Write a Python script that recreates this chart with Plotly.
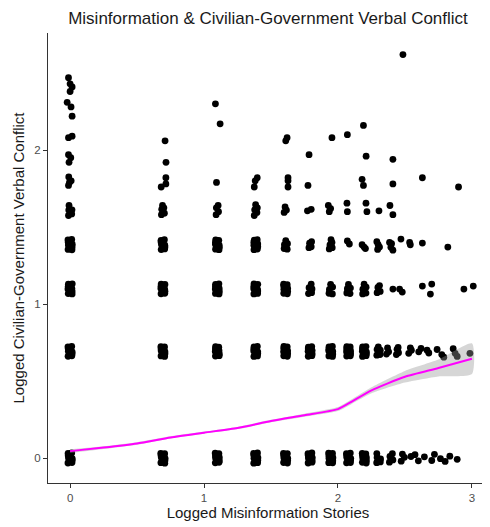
import plotly.graph_objects as go

# ---------------- data ----------------
# jittered observations: x = logged misinformation stories, y = logged verbal conflict
# row near y = 0
x_row0 = [-0.016, 0.014, -0.012, 0.016, -0.015, 0.012,
          0.678, 0.707, 0.681, 0.709, 0.677, 0.706,
          1.084, 1.112, 1.086, 1.114, 1.083, 1.111,
          1.371, 1.400, 1.373, 1.402, 1.370, 1.399,
          1.594, 1.623, 1.596, 1.625, 1.593, 1.622,
          1.777, 1.806, 1.779, 1.808, 1.776, 1.805,
          1.931, 1.960, 1.933, 1.962, 1.930, 1.959,
          2.064, 2.093, 2.066, 2.095, 2.063, 2.092,
          2.182, 2.211, 2.185, 2.212, 2.181, 2.208,
          2.289, 2.316, 2.292, 2.318, 2.290,
          2.384, 2.410, 2.388, 2.406,
          2.472, 2.496, 2.481,
          2.545, 2.575, 2.600, 2.645, 2.700, 2.720, 2.765, 2.800, 2.835, 2.890]
y_row0 = [-0.032, -0.029, 0.001, -0.004, 0.030, 0.033,
          -0.030, -0.033, 0.003, -0.002, 0.031, 0.028,
          -0.031, -0.028, 0.000, 0.004, 0.032, 0.029,
          -0.033, -0.030, -0.002, 0.002, 0.030, 0.033,
          -0.029, -0.032, 0.002, -0.003, 0.031, 0.029,
          -0.032, -0.027, 0.001, 0.003, 0.028, 0.033,
          -0.030, -0.031, -0.001, 0.002, 0.032, 0.030,
          -0.031, -0.029, 0.003, -0.002, 0.029, 0.032,
          -0.028, -0.032, 0.000, 0.004, 0.031, 0.027,
          -0.030, -0.025, 0.004, -0.006, 0.029,
          -0.027, -0.012, 0.010, 0.028,
          -0.020, 0.005, 0.026,
          0.010, 0.022, -0.018, 0.008, -0.016, 0.024, -0.004, -0.022, 0.012, -0.008]
x_row0_fill = [0.001, -0.002, 0.694, 0.691, 1.100, 1.097, 1.387, 1.384, 1.610, 1.607,
               1.793, 1.790, 1.947, 1.944, 2.080, 2.077, 2.198, 2.195,
               -0.014, 0.015, 0.679, 0.708, 1.085, 1.114, 1.372, 1.401, 1.595, 1.624,
               1.778, 1.807, 1.932, 1.961, 2.065, 2.094, 2.183, 2.212]
y_row0_fill = [-0.016, 0.017, -0.015, 0.016, -0.017, 0.015, -0.016, 0.018, -0.014, 0.016,
               -0.016, 0.017, -0.015, 0.016, -0.017, 0.015, -0.016, 0.017,
               0.016, -0.015, 0.017, -0.016, 0.015, -0.017, 0.016, -0.014, 0.018, -0.015,
               0.016, -0.016, 0.015, -0.017, 0.017, -0.015, 0.016, -0.016]

# row near y = 0.69
x_row1 = [-0.015, 0.013, -0.013, 0.015, -0.016, 0.012,
          0.679, 0.706, 0.680, 0.708, 0.678, 0.705,
          1.085, 1.113, 1.084, 1.112, 1.086, 1.110,
          1.372, 1.399, 1.371, 1.401, 1.373, 1.398,
          1.595, 1.622, 1.594, 1.624, 1.596, 1.621,
          1.778, 1.805, 1.777, 1.807, 1.779, 1.804,
          1.932, 1.959, 1.931, 1.961, 1.933, 1.958,
          2.065, 2.092, 2.064, 2.094, 2.066, 2.091,
          2.183, 2.210, 2.182, 2.212, 2.184, 2.209,
          2.290, 2.314, 2.292, 2.316, 2.301,
          2.362, 2.378, 2.370,
          2.436, 2.452, 2.441, 2.449,
          2.528, 2.548, 2.540,
          2.603, 2.620,
          2.665, 2.678,
          2.740, 2.775, 2.790,
          2.860, 2.875, 2.890,
          2.985]
y_row1 = [0.661, 0.664, 0.694, 0.690, 0.722, 0.725,
          0.663, 0.660, 0.696, 0.691, 0.724, 0.721,
          0.662, 0.665, 0.692, 0.697, 0.723, 0.720,
          0.660, 0.663, 0.695, 0.690, 0.721, 0.725,
          0.664, 0.661, 0.690, 0.696, 0.725, 0.722,
          0.661, 0.665, 0.693, 0.698, 0.720, 0.724,
          0.663, 0.660, 0.697, 0.692, 0.722, 0.725,
          0.662, 0.664, 0.691, 0.695, 0.724, 0.721,
          0.660, 0.665, 0.694, 0.690, 0.721, 0.724,
          0.668, 0.672, 0.705, 0.700, 0.722,
          0.675, 0.690, 0.715,
          0.672, 0.684, 0.706, 0.718,
          0.680, 0.700, 0.716,
          0.690, 0.712,
          0.700, 0.682,
          0.705, 0.672, 0.655,
          0.710, 0.680, 0.660,
          0.680]
x_row1_fill = [0.001, -0.002, 0.694, 0.691, 1.100, 1.097, 1.387, 1.384, 1.610, 1.607,
               1.793, 1.790, 1.947, 1.944, 2.080, 2.077, 2.198, 2.195,
               -0.014, 0.015, 0.679, 0.708, 1.085, 1.114, 1.372, 1.401, 1.595, 1.624,
               1.778, 1.807, 1.932, 1.961, 2.065, 2.094, 2.183, 2.212]
y_row1_fill = [0.677, 0.710, 0.678, 0.709, 0.676, 0.708, 0.677, 0.711, 0.679, 0.709,
               0.677, 0.710, 0.678, 0.709, 0.676, 0.708, 0.677, 0.710,
               0.709, 0.678, 0.710, 0.677, 0.708, 0.676, 0.709, 0.679, 0.711, 0.678,
               0.709, 0.677, 0.708, 0.676, 0.710, 0.678, 0.709, 0.677]

# row near y = 1.10
x_row2 = [-0.014, 0.015, -0.016, 0.013, -0.013, 0.016,
          0.679, 0.707, 0.678, 0.706, 0.680, 0.708,
          1.085, 1.112, 1.084, 1.113, 1.086, 1.111,
          1.372, 1.400, 1.371, 1.399, 1.373, 1.401,
          1.595, 1.622, 1.596, 1.624, 1.594, 1.621,
          1.780, 1.803, 1.806, 1.784, 1.800,
          1.933, 1.958, 1.936, 1.960, 1.945,
          2.066, 2.090, 2.070, 2.093, 2.078,
          2.184, 2.209, 2.186, 2.210, 2.195,
          2.292, 2.315, 2.298, 2.310,
          2.410, 2.460, 2.480, 2.630, 2.700, 2.690, 2.940, 3.010]
y_row2 = [1.068, 1.066, 1.098, 1.102, 1.129, 1.131,
          1.067, 1.070, 1.101, 1.096, 1.130, 1.127,
          1.069, 1.066, 1.097, 1.101, 1.128, 1.131,
          1.066, 1.069, 1.100, 1.095, 1.131, 1.128,
          1.070, 1.067, 1.096, 1.102, 1.129, 1.126,
          1.068, 1.074, 1.098, 1.106, 1.130,
          1.070, 1.066, 1.095, 1.110, 1.128,
          1.072, 1.068, 1.100, 1.104, 1.127,
          1.066, 1.071, 1.096, 1.109, 1.129,
          1.074, 1.082, 1.108, 1.120,
          1.097, 1.097, 1.078, 1.117, 1.130, 1.065, 1.097, 1.117]
x_row2_fill = [0.001, -0.002, 0.694, 0.691, 1.100, 1.097, 1.387, 1.384, 1.610, 1.607,
               -0.014, 0.015, 0.679, 0.708, 1.085, 1.114, 1.372, 1.401, 1.595, 1.624]
y_row2_fill = [1.083, 1.116, 1.084, 1.115, 1.082, 1.114, 1.083, 1.117, 1.085, 1.115,
               1.115, 1.084, 1.116, 1.083, 1.114, 1.082, 1.115, 1.085, 1.117, 1.083]

# row near y = 1.39
x_row3 = [-0.015, 0.014, -0.013, 0.016, -0.016, 0.012,
          0.680, 0.706, 0.682, 0.707, 0.679, 0.704,
          1.086, 1.112, 1.085, 1.113, 1.087, 1.110,
          1.373, 1.398, 1.372, 1.401, 1.375, 1.397,
          1.598, 1.621, 1.600, 1.623, 1.610,
          1.783, 1.800, 1.788, 1.803,
          1.935, 1.957, 1.940, 1.955, 1.948,
          2.070, 2.085,
          2.180, 2.195, 2.205,
          2.290, 2.300, 2.310, 2.296,
          2.385, 2.400, 2.395, 2.410,
          2.470, 2.535, 2.540, 2.630, 2.820]
y_row3 = [1.355, 1.352, 1.384, 1.389, 1.416, 1.419,
          1.354, 1.358, 1.386, 1.382, 1.414, 1.418,
          1.356, 1.353, 1.388, 1.383, 1.417, 1.414,
          1.353, 1.357, 1.382, 1.390, 1.415, 1.418,
          1.360, 1.356, 1.385, 1.392, 1.412,
          1.366, 1.372, 1.395, 1.405,
          1.358, 1.366, 1.384, 1.400, 1.418,
          1.410, 1.390,
          1.385, 1.370, 1.360,
          1.405, 1.385, 1.370, 1.355,
          1.400, 1.392, 1.368, 1.350,
          1.422, 1.400, 1.385, 1.396, 1.370]
x_row3_fill = [0.001, -0.002, 0.694, 0.691, 1.100, 1.097, 1.387, 1.384,
               -0.014, 0.015, 0.679, 0.708, 1.085, 1.114, 1.372, 1.401]
y_row3_fill = [1.370, 1.403, 1.371, 1.402, 1.369, 1.401, 1.370, 1.404,
               1.402, 1.371, 1.403, 1.370, 1.401, 1.369, 1.402, 1.372]

# row near y = 1.61
x_row4 = [-0.012, 0.012, -0.010, 0.014, -0.008,
          0.682, 0.704, 0.684, 0.700, 0.690,
          1.090, 1.108, 1.092, 1.105,
          1.375, 1.395, 1.378, 1.398, 1.385,
          1.598, 1.615, 1.605,
          1.772, 1.800,
          1.928, 1.945, 1.935,
          2.067, 2.070,
          2.209, 2.216,
          2.306,
          2.388, 2.410]
y_row4 = [1.575, 1.585, 1.610, 1.612, 1.640,
          1.580, 1.590, 1.615, 1.625, 1.640,
          1.580, 1.600, 1.625, 1.640,
          1.575, 1.595, 1.612, 1.625, 1.645,
          1.595, 1.610, 1.630,
          1.605, 1.615,
          1.640, 1.620, 1.600,
          1.655, 1.600,
          1.655, 1.600,
          1.605,
          1.640, 1.580]

# row near y = 1.79
x_row5 = [-0.010, 0.008, -0.012, -0.005,
          0.715, 0.715, 0.680,
          1.093,
          1.397, 1.382, 1.375,
          1.627, 1.627, 1.627,
          1.776,
          2.180, 2.190,
          2.410, 2.630, 2.900]
y_row5 = [1.825, 1.800, 1.770, 1.790,
          1.820, 1.780, 1.760,
          1.790,
          1.820, 1.800, 1.760,
          1.820, 1.800, 1.760,
          1.770,
          1.810, 1.770,
          1.780, 1.820, 1.760]

# upper scattered observations (y around 1.95 and above)
x_upper = [-0.012, 0.005, -0.008, 0.716, 1.784, 2.210, 2.410,
           -0.012, 0.015, 0.709, 1.620, 1.610, 1.955, 2.070,
           -0.012, 0.000, 0.015, 0.000, -0.022, 0.007, 0.015,
           1.085, 1.120, 2.190, 2.485]
y_upper = [1.970, 1.950, 1.920, 1.920, 1.970, 1.960, 1.940,
           2.080, 2.090, 2.060, 2.080, 2.060, 2.080, 2.100,
           2.470, 2.430, 2.410, 2.380, 2.310, 2.280, 2.220,
           2.300, 2.170, 2.160, 2.620]

# loess smooth with standard-error band
smooth_x = [0.0, 0.25, 0.5, 0.75, 1.0, 1.25, 1.5, 1.75, 2.0, 2.1, 2.25, 2.5, 2.75, 3.0]
smooth_y = [0.045, 0.068, 0.095, 0.134, 0.165, 0.195, 0.240, 0.278, 0.318, 0.365, 0.440, 0.528, 0.585, 0.645]
smooth_se = [0.012, 0.009, 0.008, 0.007, 0.007, 0.007, 0.008, 0.010, 0.013, 0.015, 0.020, 0.038, 0.055, 0.100]

x_ticks = [0, 1, 2, 3]
y_ticks = [0, 1, 2]

title_text = "Misinformation &amp; Civilian-Government Verbal Conflict"
x_title = "Logged Misinformation Stories"
y_title = "Logged Civilian-Government Verbal Conflict"

# ---------------- figure ----------------
stories = (x_row0 + x_row0_fill + x_row1 + x_row1_fill + x_row2 + x_row2_fill
           + x_row3 + x_row3_fill + x_row4 + x_row5 + x_upper)
conflict = (y_row0 + y_row0_fill + y_row1 + y_row1_fill + y_row2 + y_row2_fill
            + y_row3 + y_row3_fill + y_row4 + y_row5 + y_upper)

FONT = "Liberation Sans, Arial, sans-serif"

fig = go.Figure()

fig.add_trace(go.Scatter(
    x=stories, y=conflict, mode="markers",
    marker=dict(size=6.8, color="black", line=dict(width=0)),
    hoverinfo="skip", showlegend=False))

upper = [m + s for m, s in zip(smooth_y, smooth_se)]
lower = [m - s for m, s in zip(smooth_y, smooth_se)]
fig.add_trace(go.Scatter(
    x=smooth_x + smooth_x[::-1], y=upper + lower[::-1],
    fill="toself", fillcolor="rgba(153,153,153,0.4)",
    line=dict(width=0, shape="spline", smoothing=0.6),
    mode="lines", hoverinfo="skip", showlegend=False))

fig.add_trace(go.Scatter(
    x=smooth_x, y=smooth_y, mode="lines",
    line=dict(color="#FF00FF", width=2, shape="spline", smoothing=0.6),
    hoverinfo="skip", showlegend=False))

axis_common = dict(
    showgrid=False, zeroline=False, showline=True, linecolor="#333333", linewidth=1,
    ticks="outside", ticklen=4, tickcolor="#333333", tickwidth=1,
    tickfont=dict(family=FONT, size=11.5, color="#4D4D4D"),
)

# the page body adds an 8px offset, so the figure is 8px smaller than the window
fig.update_layout(
    width=482, height=519, autosize=False,
    margin=dict(l=40, r=2, t=25, b=44),
    paper_bgcolor="white", plot_bgcolor="white",
    font=dict(family=FONT),
    title=dict(text=title_text, x=0.5, xref="paper", xanchor="center",
               y=1 - 10 / 519, yref="container", yanchor="middle",
               font=dict(family=FONT, size=17, color="#1a1a1a")),
    xaxis=dict(range=[-0.165, 3.12], tickvals=x_ticks,
               title=dict(text=x_title, standoff=3,
                          font=dict(family=FONT, size=15, color="#1a1a1a")),
               **axis_common),
    yaxis=dict(range=[-0.162, 2.76], tickvals=y_ticks,
               title=dict(text=y_title, standoff=6,
                          font=dict(family=FONT, size=15, color="#1a1a1a")),
               **axis_common),
)

fig.write_html("out.html")
